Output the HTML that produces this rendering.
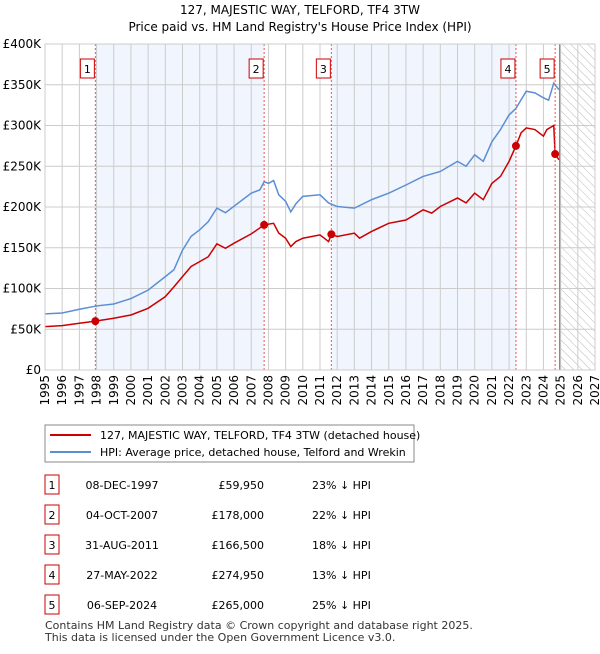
<!DOCTYPE html>
<html><head><meta charset="utf-8"><style>
body{margin:0;background:#fff;width:600px;height:650px;overflow:hidden;font-family:"DejaVu Sans","Liberation Sans",sans-serif;}
svg text{font-family:"DejaVu Sans","Liberation Sans",sans-serif;}
</style></head><body>
<svg id="chart" width="600" height="650">
<defs><pattern id="hatch" width="6" height="6" patternUnits="userSpaceOnUse" patternTransform="rotate(-45)"><line x1="0" y1="0" x2="0" y2="6" stroke="#bbb" stroke-width="1"/></pattern></defs>
<text x="300" y="14" text-anchor="middle" font-size="12">127, MAJESTIC WAY, TELFORD, TF4 3TW</text>
<text x="300" y="31" text-anchor="middle" font-size="12">Price paid vs. HM Land Registry's House Price Index (HPI)</text>
<g id="plot"></g>
<rect x="45" y="425" width="369" height="37" fill="#fff" stroke="#888"/>
<line x1="50" y1="435" x2="91" y2="435" stroke="#cc0000" stroke-width="2"/>
<text x="100" y="439" font-size="11">127, MAJESTIC WAY, TELFORD, TF4 3TW (detached house)</text>
<line x1="50" y1="452" x2="91" y2="452" stroke="#5b8fd4" stroke-width="2"/>
<text x="100" y="456" font-size="11">HPI: Average price, detached house, Telford and Wrekin</text>
<g id="table"></g>
<text x="45" y="629" font-size="11" fill="#333">Contains HM Land Registry data © Crown copyright and database right 2025.</text>
<text x="45" y="641" font-size="11" fill="#333">This data is licensed under the Open Government Licence v3.0.</text>
</svg>
<script>
const hpiYears=[1995,1996,1997,1998,1999,2000,2001,2002,2002.5,2003,2003.5,2004,2004.5,2005,2005.5,2006,2007,2007.5,2007.75,2008,2008.3,2008.6,2009,2009.3,2009.6,2010,2011,2011.5,2012,2013,2014,2015,2016,2017,2018,2019,2019.5,2020,2020.5,2021,2021.5,2022,2022.4,2023,2023.5,2024,2024.3,2024.6,2024.9];
const hpiValues=[68.8,70,74.5,78.6,81,87.6,98,114.6,123,147,164,172,182,198.6,193,201,217,221,231,229,232.5,215,207,194,204,213,215,205,200.6,198.6,209,217,227,237.5,243.6,256,250,264,256,280,295,313,321,342,340,334,331,352,344];
const redYears=[1995,1996,1997,1997.93,1999,2000,2001,2002,2002.5,2003,2003.5,2004,2004.5,2005,2005.5,2006,2007,2007.75,2008.3,2008.6,2009,2009.3,2009.6,2010,2011,2011.5,2011.66,2012,2013,2013.3,2014,2015,2016,2017,2017.5,2018,2019,2019.5,2020,2020.5,2021,2021.5,2022,2022.4,2022.7,2023,2023.5,2024,2024.2,2024.6,2024.68,2024.9];
const redValues=[53.2,54.5,57.3,59.95,63.5,67.5,75.7,90,102,114.6,127,133,139,154.8,149.4,155.6,167,178,180,168,161.7,151.5,157.6,161.7,165.8,157.6,166.5,163.8,167.9,161.7,170,180,184,196.5,192.5,200.6,211,205,217,209,229,237.5,256,274.95,291,297,295,287,295,300,265,258];
const saleLabels=["1","2","3","4","5"];
const saleYears=[1997.93,2007.75,2011.66,2022.4,2024.68];
const salePrices=[59.95,178,166.5,274.95,265];
const saleDates=["08-DEC-1997","04-OCT-2007","31-AUG-2011","27-MAY-2022","06-SEP-2024"];
const salePriceText=["£59,950","£178,000","£166,500","£274,950","£265,000"];
const saleHpiText=["23% ↓ HPI","22% ↓ HPI","18% ↓ HPI","13% ↓ HPI","25% ↓ HPI"];
const yTicks=[0,50,100,150,200,250,300,350,400];
const yTickLabels=["£0","£50K","£100K","£150K","£200K","£250K","£300K","£350K","£400K"];
const xTicks=[1995,1996,1997,1998,1999,2000,2001,2002,2003,2004,2005,2006,2007,2008,2009,2010,2011,2012,2013,2014,2015,2016,2017,2018,2019,2020,2021,2022,2023,2024,2025,2026,2027];

const NS="http://www.w3.org/2000/svg";
const X0=45,X1=595,Y0=370,Y1=44;
const xs=y=>X0+(y-1995)/(2027-1995)*(X1-X0);
const ys=v=>Y0-v/400*(Y0-Y1);
function mk(tag,attrs,parent){const e=document.createElementNS(NS,tag);for(const k in attrs)e.setAttribute(k,attrs[k]);parent.appendChild(e);return e;}
const g=document.getElementById('plot');
// shaded periods
for(let i=0;i<saleYears.length-1;i+=2){
  const r=mk('rect',{x:xs(saleYears[i]),y:Y1,width:xs(saleYears[i+1])-xs(saleYears[i]),height:Y0-Y1,fill:'#eef3fc',opacity:0.8},g);
  
  
}
const hr=mk('rect',{x:xs(2025),y:Y1,width:X1-xs(2025),height:Y0-Y1,fill:'url(#hatch)'},g);


xTicks.forEach(t=>{
  const l=mk('line',{x1:xs(t),x2:xs(t),y1:Y1,y2:Y0,stroke:'#ccc'},g);
  
  
  const tx=mk('text',{x:0,y:0,'font-size':12,'text-anchor':'end',transform:`translate(${xs(t)+4},${Y0+5}) rotate(-90)`},g);
  tx.textContent=t;
  
  
});
yTicks.forEach((t,i)=>{
  const l=mk('line',{x1:X0,x2:X1,y1:ys(t),y2:ys(t),stroke:'#ccc'},g);
  
  
  const tx=mk('text',{x:X0-4,y:ys(t)+4,'font-size':12,'text-anchor':'end'},g);
  tx.textContent=yTickLabels[i];
  
  
});
const nl=mk('line',{x1:xs(2025)-1,x2:xs(2025)-1,y1:Y1,y2:Y0,stroke:'#888','stroke-width':1.2},g);


const hp=mk('polyline',{points:hpiYears.map((y,i)=>xs(y)+','+ys(hpiValues[i])).join(' '),fill:'none',stroke:'#5b8fd4','stroke-width':1.5},g);


const rp=mk('polyline',{points:redYears.map((y,i)=>xs(y)+','+ys(redValues[i])).join(' '),fill:'none',stroke:'#cc0000','stroke-width':1.5},g);


saleYears.forEach((y,i)=>{
  const l=mk('line',{x1:xs(y),x2:xs(y),y1:Y1,y2:Y0,stroke:'#e55','stroke-dasharray':'2,2'},g);
  
  
  const c=mk('circle',{cx:xs(y),cy:ys(salePrices[i]),r:4,fill:'#cc0000'},g);
  
  
  const b=mk('rect',{x:xs(y)-15,y:59,width:14,height:19,fill:'#fff',stroke:'#cc0000'},g);
  
  
  const t=mk('text',{x:xs(y)-8,y:73,'font-size':11,'text-anchor':'middle'},g);
  t.textContent=saleLabels[i];
  
  
});
mk('rect',{x:X0,y:Y1,width:X1-X0,height:Y0-Y1,fill:'none',stroke:'#ccc'},g);
const tb=document.getElementById('table');
saleLabels.forEach((s,i)=>{
  const yy=485+i*30;
  const b=mk('rect',{x:45,y:yy-10,width:14,height:19,fill:'#fff',stroke:'#cc0000'},tb);
  
  
  const vals=[[52,s,'middle'],[122,saleDates[i],'middle'],[264,salePriceText[i],'end'],[312,saleHpiText[i],'start']];
  vals.forEach(v=>{
    const t=mk('text',{x:v[0],y:yy+4,'font-size':11,'text-anchor':v[2]},tb);
    t.textContent=v[1];
    
    
  });
});
</script>
</body></html>
